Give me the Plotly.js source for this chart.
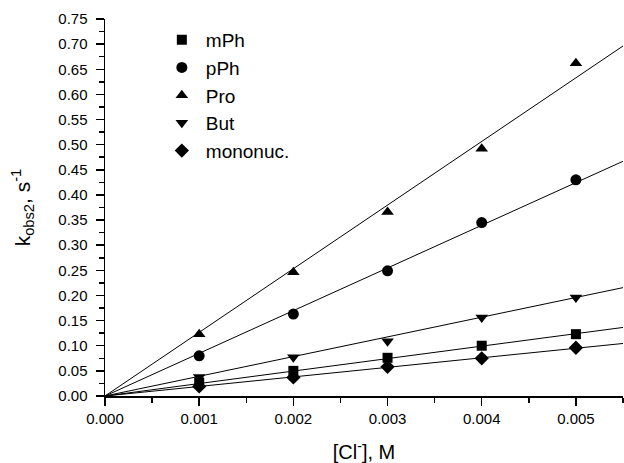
<!DOCTYPE html>
<html>
<head>
<meta charset="utf-8">
<script src="https://cdn.plot.ly/plotly-3.0.1.min.js"></script>
<style>html,body{margin:0;padding:0;background:#fff;}#chart{width:624px;height:463px;}</style>
</head>
<body>
<div id="chart"></div>
<script>
var concentration = [0.001, 0.002, 0.003, 0.004, 0.005];
var seriesNames = ["mPh", "pPh", "Pro", "But", "mononuc."];
var mPh = [0.027, 0.050, 0.076, 0.100, 0.123];
var pPh = [0.080, 0.163, 0.249, 0.345, 0.430];
var Pro = [0.123, 0.246, 0.366, 0.492, 0.662];
var But = [0.038, 0.077, 0.109, 0.156, 0.196];
var mononuc = [0.019, 0.037, 0.058, 0.075, 0.096];
var fitSlopes = [24.8, 84.9, 126.6, 39.2, 19.0];
var fitX = [0, 0.0055];
var symbols = ["square", "circle", "triangle-up", "triangle-down", "diamond"];
var sizes = [10, 11, 11, 11, 11];
var values = [mPh, pPh, Pro, But, mononuc];

var traces = [];
for (var i = 0; i < values.length; i++) {
  traces.push({
    x: fitX,
    y: fitX.map(function (x) { return x * fitSlopes[i]; }),
    mode: "lines",
    line: {color: "#000", width: 1},
    showlegend: false,
    hoverinfo: "skip"
  });
}
for (var j = 0; j < values.length; j++) {
  traces.push({
    x: concentration,
    y: values[j],
    name: seriesNames[j],
    mode: "markers",
    marker: {symbol: symbols[j], size: sizes[j], color: "#000"}
  });
}

var fam = "Liberation Sans, Arial, sans-serif";
var layout = {
  width: 624, height: 463,
  margin: {l: 105, r: 1, t: 19, b: 67},
  paper_bgcolor: "#fff", plot_bgcolor: "#fff",
  font: {family: fam, color: "#000", size: 15},
  showlegend: true,
  legend: {x: 0.102, y: 0.995, xanchor: "left", yanchor: "top", bgcolor: "rgba(0,0,0,0)",
           font: {size: 19, family: fam, color: "#000"}, itemwidth: 38, tracegroupgap: 0},
  xaxis: {
    range: [0, 0.0055], dtick: 0.001, tick0: 0, tickformat: ".3f",
    showgrid: false, zeroline: false, showline: true, linecolor: "#000", linewidth: 1.5,
    ticks: "outside", ticklen: 8, tickwidth: 1.5, tickcolor: "#000",
    minor: {dtick: 0.0005, ticklen: 5, tickwidth: 1.5, tickcolor: "#000", ticks: "outside", showgrid: false},
    tickfont: {size: 15},
    title: {text: "[Cl<sup>-</sup>], M", font: {size: 20}}
  },
  yaxis: {
    range: [0, 0.75], dtick: 0.05, tick0: 0, tickformat: ".2f",
    showgrid: false, zeroline: false, showline: true, linecolor: "#000", linewidth: 1.5,
    ticks: "outside", ticklen: 8, tickwidth: 1.5, tickcolor: "#000", ticklabelstandoff: 5,
    minor: {dtick: 0.025, ticklen: 5, tickwidth: 1.5, tickcolor: "#000", ticks: "outside", showgrid: false},
    tickfont: {size: 15},
    automargin: true,
    title: {text: "k<sub>obs2</sub>, s<sup>-1</sup>", font: {size: 21}, standoff: 22}
  }
};
Plotly.newPlot("chart", traces, layout, {staticPlot: true, displayModeBar: false});
</script>
</body>
</html>
